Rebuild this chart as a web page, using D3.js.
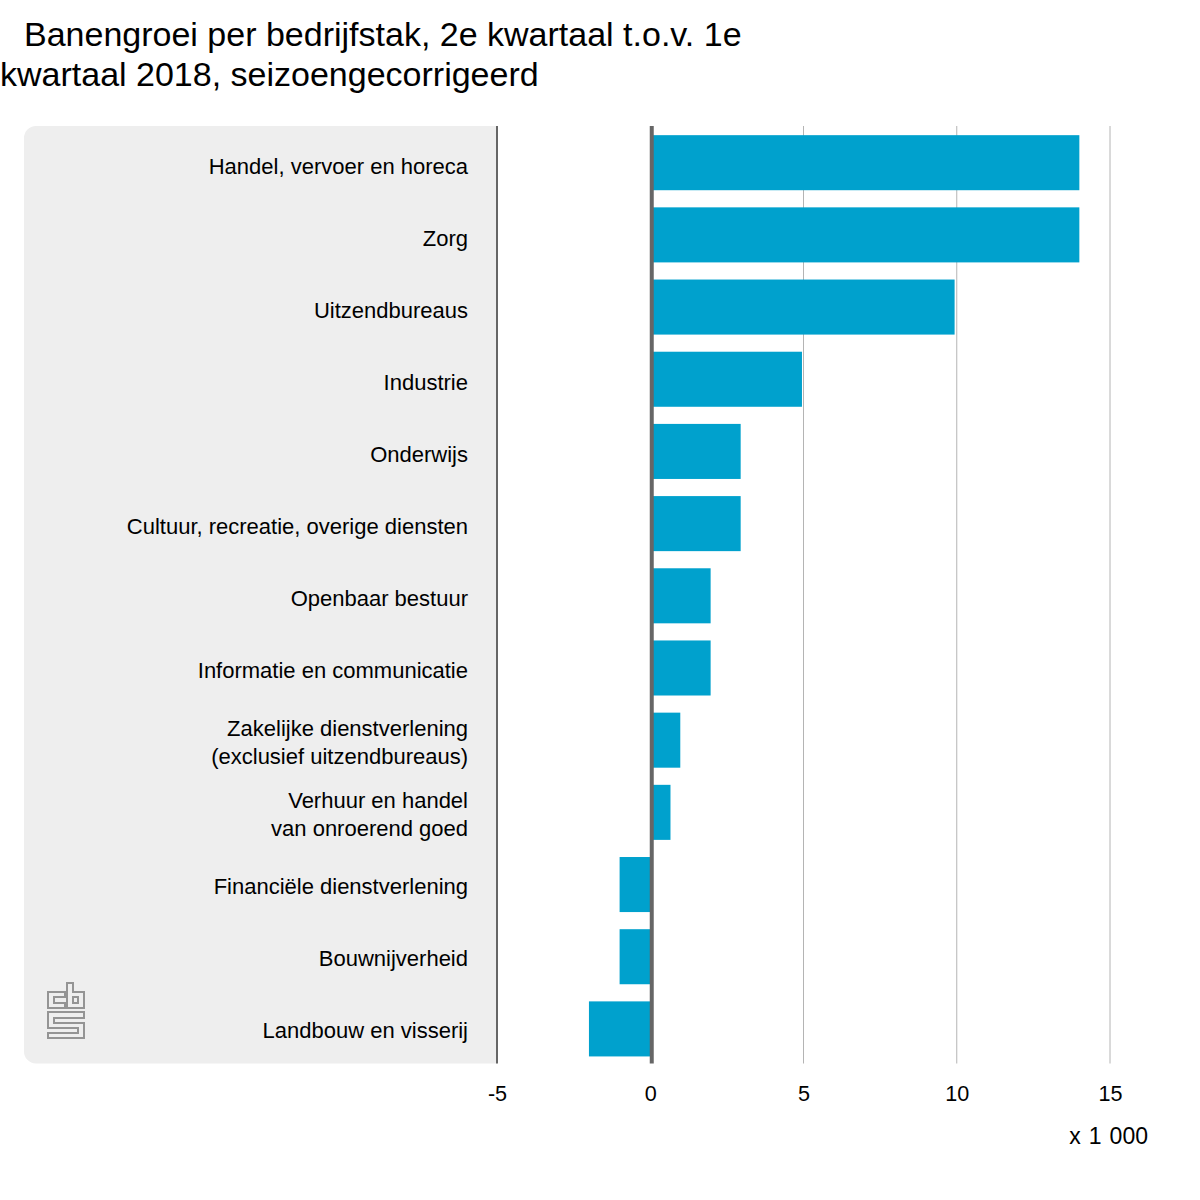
<!DOCTYPE html>
<html>
<head>
<meta charset="utf-8">
<title>Banengroei per bedrijfstak</title>
<script src="https://d3js.org/d3.v7.min.js"></script>
<style>
	html, body { margin: 0; padding: 0; background: #fff; }
	svg { display: block; }
	text { font-family: "Liberation Sans", Arial, sans-serif; fill: #000; }
	.title { font-size: 34px; }
	.cat { font-size: 22px; }
	.unit { font-size: 23px; word-spacing: 1.7px; }
	.axis path, .axis line { display: none; }
</style>
</head>
<body>
<div id="viz"></div>
<script>
// values in thousands of jobs
var categories = [
	"Handel, vervoer en horeca",
	"Zorg",
	"Uitzendbureaus",
	"Industrie",
	"Onderwijs",
	"Cultuur, recreatie, overige diensten",
	"Openbaar bestuur",
	"Informatie en communicatie",
	"Zakelijke dienstverlening\n(exclusief uitzendbureaus)",
	"Verhuur en handel\nvan onroerend goed",
	"Financiële dienstverlening",
	"Bouwnijverheid",
	"Landbouw en visserij"
];
var values = [14, 14, 9.93, 4.95, 2.95, 2.95, 1.97, 1.97, 0.98, 0.66, -1, -1, -2];
var ticks = [-5, 0, 5, 10, 15];
var titleLines = [
	"Banengroei per bedrijfstak, 2e kwartaal t.o.v. 1e",
	"kwartaal 2018, seizoengecorrigeerd"
];
var unitLabel = "x 1 000";

var svg = d3.select("#viz").append("svg")
	.attr("width", 1200)
	.attr("height", 1200);

var x = d3.scaleLinear().domain([-5, 15]).range([497, 1110]);
var y = d3.scaleBand()
	.domain(categories)
	.range([126.6, 1065])
	.paddingInner(0.2374)
	.paddingOuter(0.1187);
// the labels sit on a slightly tighter step than the bars
var yLabel = d3.scaleBand()
	.domain(categories)
	.range([127.5, 1063.5]);

// title
svg.selectAll("text.title")
	.data(titleLines)
	.enter().append("text")
	.attr("class", "title")
	.attr("x", function(d, i) { return i == 0 ? 24 : 0; })
	.attr("y", function(d, i) { return 46 + i * 39.5; })
	.text(function(d) { return d; });

// grey label panel, square on the right, rounded on the left
svg.append("path")
	.attr("d", "M497,126 H36 A12,12 0 0 0 24,138 V1051 A12,12 0 0 0 36,1063.5 H497 Z")
	.attr("fill", "#eeeeee");

// grid
svg.selectAll("line.grid")
	.data(ticks.filter(function(d) { return d > 0; }))
	.enter().append("line")
	.attr("class", "grid")
	.attr("x1", function(d) { return x(d); })
	.attr("x2", function(d) { return x(d); })
	.attr("y1", 126)
	.attr("y2", 1063.5)
	.attr("stroke", "#b4b4b4")
	.attr("stroke-width", 1);

// bars
svg.selectAll("rect.bar")
	.data(values)
	.enter().append("rect")
	.attr("class", "bar")
	.attr("x", function(d) { return x(Math.min(0, d)); })
	.attr("y", function(d, i) { return y(categories[i]); })
	.attr("width", function(d) { return Math.abs(x(d) - x(0)); })
	.attr("height", y.bandwidth())
	.attr("fill", "#00a1cd");

// left edge of the plot and the zero line
svg.append("line")
	.attr("x1", x(-5)).attr("x2", x(-5))
	.attr("y1", 126).attr("y2", 1063.5)
	.attr("stroke", "#666666")
	.attr("stroke-width", 2);
svg.append("line")
	.attr("x1", x(0) + 1.5).attr("x2", x(0) + 1.5)
	.attr("y1", 126).attr("y2", 1063.5)
	.attr("stroke", "#666666")
	.attr("stroke-width", 4);

// category labels, one or two lines
var labels = svg.selectAll("text.cat")
	.data(categories)
	.enter().append("text")
	.attr("class", "cat")
	.attr("text-anchor", "end");

labels.each(function(d) {
	var lines = d.split("\n");
	var mid = yLabel(d) + yLabel.bandwidth() / 2;
	d3.select(this).selectAll("tspan")
		.data(lines)
		.enter().append("tspan")
		.attr("x", 468)
		.attr("y", function(l, i) { return mid + 10.5 + (i - (lines.length - 1) / 2) * 28; })
		.text(function(l) { return l; });
});

// x axis labels
svg.append("g")
	.attr("class", "axis")
	.attr("transform", "translate(0,1083)")
	.call(d3.axisBottom(x).tickValues(ticks).tickSize(0).tickPadding(3).tickFormat(String))
	.selectAll("text")
	.style("font-family", "'Liberation Sans', Arial, sans-serif")
	.style("font-size", "21.6px");

svg.append("text")
	.attr("class", "unit")
	.attr("x", 1148)
	.attr("y", 1143.5)
	.attr("text-anchor", "end")
	.text(unitLabel);

// cbs logo
var logo = [
	"M65,992 H48 V1008 H65 V1003 H54 V997 H65 Z",
	"M67,983 H73 V992 H84 V1008 H67 Z M73,997 H78 V1003 H73 Z",
	"M84,1012 H48 V1028 H78 V1033 H48 V1038 H84 V1023 H54 V1018 H84 Z"
];
svg.selectAll("path.logo")
	.data(logo)
	.enter().append("path")
	.attr("class", "logo")
	.attr("d", function(d) { return d; })
	.attr("fill", "none")
	.attr("stroke", "#949494")
	.attr("stroke-width", 2);
</script>
</body>
</html>
